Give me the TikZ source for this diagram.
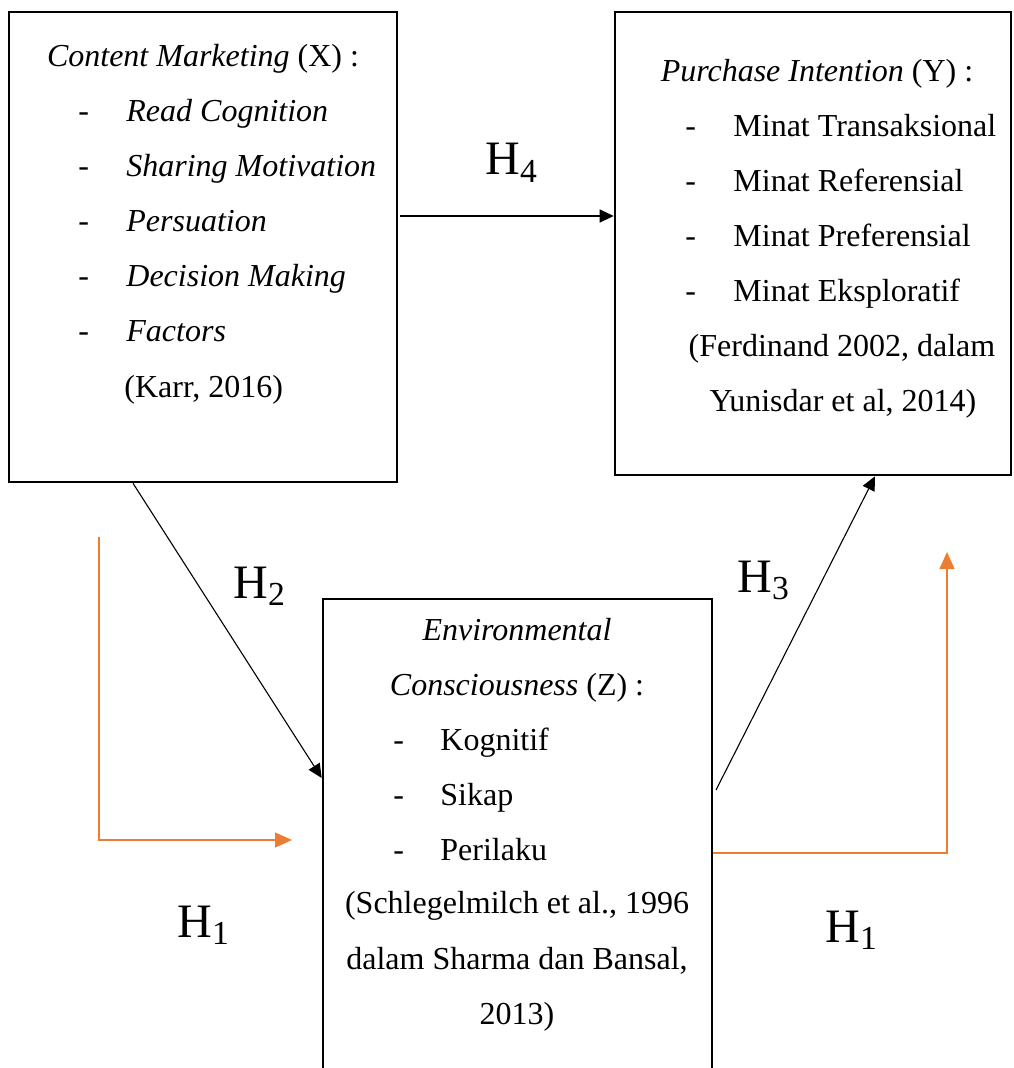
\documentclass[tikz,border=0pt]{standalone}
\usepackage{fontspec}
\setmainfont{Liberation Serif}
\usetikzlibrary{arrows.meta}
\definecolor{linkOrange}{HTML}{ED7D31}

\begin{document}
\begin{tikzpicture}[x=0.5pt, y=-0.5pt,
    box/.style={draw, line width=1.3pt, inner sep=0pt},
    txt/.style={font=\fontsize{16}{19}\selectfont, anchor=base, inner sep=0pt},
    item/.style={txt, anchor=base west},
    hyp/.style={font=\fontsize{24}{28}\selectfont, anchor=base west, inner sep=0pt},
    arr/.style={-{Triangle[length=7pt, width=6.5pt]}, line width=0.55pt},
    oarr/.style={-{Triangle[length=8.5pt, width=7.5pt]}, line width=0.7pt, linkOrange}]
    \useasboundingbox (0,0) rectangle (1013,1068);
    \clip (0,0) rectangle (1013,1068);

    % boxes
    \node[box, minimum width=194pt, minimum height=235pt] (X) at (203,247) {};
    \node[box, minimum width=198pt, minimum height=231.5pt] (Y) at (813,243.5) {};
    \node[box, minimum width=194.5pt, minimum height=255pt] (Z) at (517.5,854) {};

    % Content Marketing (X)
    \node[txt] (xt) at (203,67) {\textit{Content Marketing} (X) :};
    \foreach \lbl [count=\i] in {Read Cognition, Sharing Motivation, Persuation, Decision Making, Factors} {
        \node[item] (xd\i) at (78,{67+55*\i}) {-};
        \node[item] (xi\i) at (126,{67+55*\i}) {\textit{\lbl}};
    }
    \node[item] (xs) at (124,398) {(Karr, 2016)};

    % Purchase Intention (Y)
    \node[txt] (yt) at (817,82) {\textit{Purchase Intention} (Y) :};
    \foreach \lbl [count=\i] in {Minat Transaksional, Minat Referensial, Minat Preferensial, Minat Eksploratif} {
        \node[item] (yd\i) at (685,{82+55*\i}) {-};
        \node[item] (yi\i) at (733,{82+55*\i}) {\lbl};
    }
    \node[txt] (ys1) at (842,357) {(Ferdinand 2002, dalam};
    \node[txt] (ys2) at (843,412) {Yunisdar et al, 2014)};

    % Environmental Consciousness (Z)
    \node[txt] (zt1) at (517,640) {\textit{Environmental}};
    \node[txt] (zt2) at (517,695) {\textit{Consciousness} (Z) :};
    \foreach \lbl [count=\i] in {Kognitif, Sikap, Perilaku} {
        \node[item] (zd\i) at (393,{695+55*\i}) {-};
        \node[item] (zi\i) at (440,{695+55*\i}) {\lbl};
    }
    \node[txt] (zs1) at (517,913) {(Schlegelmilch et al., 1996};
    \node[txt] (zs2) at (517,969) {dalam Sharma dan Bansal,};
    \node[txt] (zs3) at (517,1024) {2013)};

    % connectors
    \coordinate (h4a) at (400,216);
    \draw[arr] (h4a) -- (Y.west |- h4a);
    \coordinate (h2a) at (133,0);
    \coordinate (h2b) at (0,778);
    \draw[arr] (X.south -| h2a) -- (Z.west |- h2b);
    \coordinate (h3a) at (716,790);
    \coordinate (h3b) at (875,0);
    \draw[arr] (h3a) -- (Y.south -| h3b);

    \coordinate (ol1) at (99,537);
    \coordinate (ol2) at (99,840);
    \coordinate (ol3) at (292,840);
    \draw[oarr] (ol1) -- (ol2) -- (ol3);
    \coordinate (or1) at (0,853);
    \coordinate (or2) at (947,853);
    \coordinate (or3) at (947,552);
    \draw[oarr] (Z.east |- or1) -- (or2) -- (or3);

    % hypothesis labels
    \node[hyp] (H4) at (485,175) {H\textsubscript{4}};
    \node[hyp] (H2) at (233,598) {H\textsubscript{2}};
    \node[hyp] (H3) at (737,592) {H\textsubscript{3}};
    \node[hyp] (H1a) at (177,937) {H\textsubscript{1}};
    \node[hyp] (H1b) at (825,942) {H\textsubscript{1}};
\end{tikzpicture}
\end{document}
